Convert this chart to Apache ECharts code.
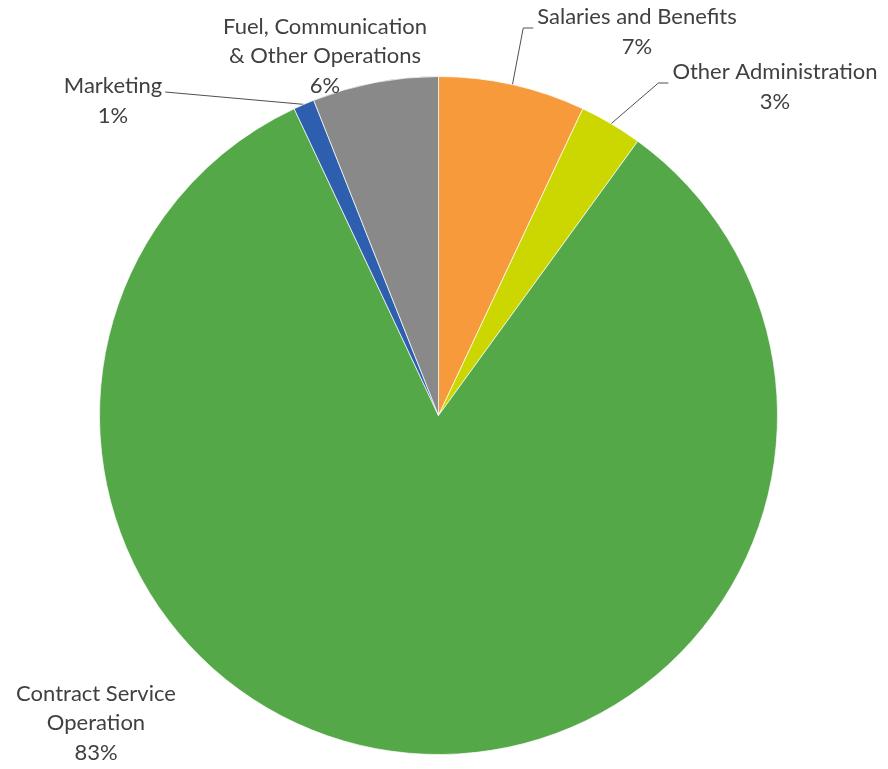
<!DOCTYPE html>
<html>
<head>
<meta charset="utf-8">
<script src="https://cdn.jsdelivr.net/npm/echarts@6/dist/echarts.min.js"></script>
<style>
  html, body { margin: 0; padding: 0; background: #fff; }
  #chart { width: 888px; height: 769px; }
</style>
</head>
<body>
<div id="chart"></div>
<script>
// Expense categories, clockwise from 12 o'clock
const categories = [
  'Salaries and Benefits',
  'Other Administration',
  'Contract Service\nOperation',
  'Marketing',
  'Fuel, Communication\n& Other Operations'
];
const shares = [7, 3, 83, 1, 6];
const sliceColors = ['#F79A3B', '#CCD600', '#54A847', '#2E5FAE', '#898989'];

// Label block centres (x, y) and which side the leader line attaches to
const labelSpots = [
  { x: 637, y: 32, line: 'left' },
  { x: 775, y: 87, line: 'left' },
  { x: 96,  y: 723, line: null },
  { x: 113, y: 101, line: 'right' },
  { x: 325, y: 56, line: null }
];

const chart = echarts.init(document.getElementById('chart'));

chart.setOption({
  backgroundColor: '#ffffff',
  animation: false,
  series: [{
    type: 'pie',
    center: [438.5, 415.5],
    radius: 339,
    startAngle: 90,
    clockwise: true,
    data: categories.map((name, i) => ({
      name: name,
      value: shares[i],
      itemStyle: { color: sliceColors[i] },
      labelLine: { show: !!labelSpots[i].line }
    })),
    itemStyle: { borderColor: '#ffffff', borderWidth: 0.7 },
    label: {
      show: true,
      position: 'outside',
      formatter: p => p.name + '\n' + p.value + '%',
      fontFamily: 'Lato',
      fontSize: 22,
      lineHeight: 29.5,
      color: '#404040',
      align: 'center'
    },
    labelLine: {
      show: true,
      length: 10,
      length2: 10,
      lineStyle: { color: '#505050', width: 1 }
    },
    labelLayout: function (params) {
      const spot = labelSpots[params.dataIndex];
      const w = params.labelRect.width;
      const out = {
        x: spot.x,
        y: spot.y,
        align: 'center',
        verticalAlign: 'middle'
      };
      const pts = params.labelLinePoints;
      if (!spot.line || !pts) return out;
      const start = pts[0];
      if (spot.line === 'left') {
        const endX = spot.x - w / 2 - 4;
        const endY = spot.y - 4;
        out.labelLinePoints = [start, [endX - 10, endY], [endX, endY]];
      } else {
        const endX = spot.x + w / 2 + 3;
        const endY = spot.y - 9;
        out.labelLinePoints = [start, [endX, endY], [endX, endY]];
      }
      return out;
    }
  }]
});
</script>
</body>
</html>
